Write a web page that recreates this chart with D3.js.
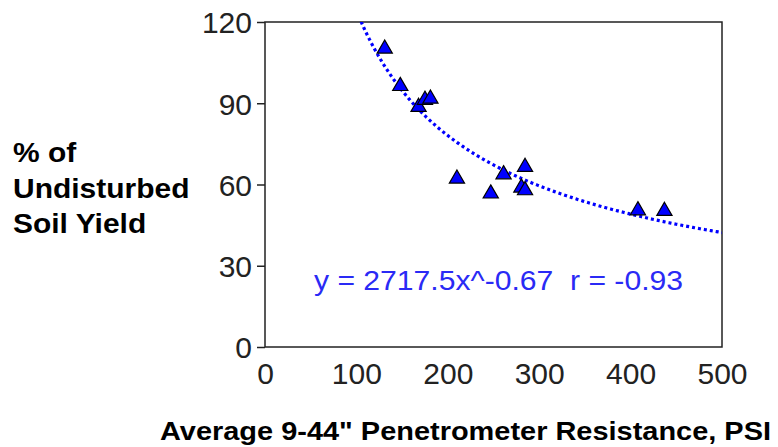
<!DOCTYPE html>
<html>
<head>
<meta charset="utf-8">
<script src="https://cdn.jsdelivr.net/npm/d3@7"></script>
<style>
  html, body { margin: 0; padding: 0; background: #fff; }
  svg { display: block; }
</style>
</head>
<body>
<svg id="chart" width="778" height="447"></svg>
<script>
// ---- data ----
const resistancePSI = [131, 148, 168, 175, 181, 210, 247, 261, 284.5, 280.5, 284.5, 408, 437];
const yieldPct      = [110.5, 96.7, 89, 91.6, 92, 62.5, 57, 64.1, 66.8, 59.2, 58.2, 50.8, 50.6];
const xTicks = [0, 100, 200, 300, 400, 500];
const yTicks = [0, 30, 60, 90, 120];
// power-law trend as printed on the chart: y = a * x^b
const trendA = 2717.5;
const trendB = -0.67;
const trendLabel = "y = 2717.5x^-0.67  r = -0.93";
const yTitleLines = ["% of", "Undisturbed", "Soil Yield"];
const xTitle = "Average 9-44\" Penetrometer Resistance, PSI";

const svg = d3.select("#chart");
const L = 265, R = 722, T = 22, B = 347;

const x = d3.scaleLinear().domain([0, 500]).range([L, R]);
const y = d3.scaleLinear().domain([0, 120]).range([B, T]);

const font = "'Liberation Sans', Arial, sans-serif";

// clip
svg.append("defs").append("clipPath").attr("id", "plotclip")
  .append("rect").attr("x", L).attr("y", T).attr("width", R - L).attr("height", B - T);

// frame
svg.append("rect")
  .attr("x", L).attr("y", T).attr("width", R - L).attr("height", B - T)
  .attr("fill", "none").attr("stroke", "#222").attr("stroke-width", 1.5);

// y axis
const yAxis = svg.append("g").attr("transform", `translate(${L},0)`)
  .call(d3.axisLeft(y).tickValues(yTicks).tickSize(8).tickPadding(5).tickFormat(d3.format("d")));
yAxis.select(".domain").remove();
yAxis.selectAll(".tick line").attr("stroke", "#222").attr("stroke-width", 1.5);
yAxis.selectAll(".tick text")
  .attr("font-family", font).attr("font-size", 30).attr("fill", "#222")
  .attr("dy", "0.36em");

// x axis (labels only)
const xAxis = svg.append("g").attr("transform", `translate(0,${B})`)
  .call(d3.axisBottom(x).tickValues(xTicks).tickSize(0).tickPadding(16).tickFormat(d3.format("d")));
xAxis.select(".domain").remove();
xAxis.selectAll(".tick text")
  .attr("font-family", font).attr("font-size", 30).attr("fill", "#222")
  .attr("dy", "0.71em");

// trend curve
const trendXs = d3.range(100, 501, 2);
const line = d3.line().x(d => x(d)).y(d => y(trendA * Math.pow(d, trendB)));
svg.append("path")
  .datum(trendXs)
  .attr("clip-path", "url(#plotclip)")
  .attr("d", line)
  .attr("fill", "none")
  .attr("stroke", "#0000ff")
  .attr("stroke-width", 3.2)
  .attr("stroke-dasharray", "3,3");

// points (triangles)
const tri = d3.symbol().type(d3.symbolTriangle).size(100);
svg.append("g").selectAll("path")
  .data(resistancePSI.map((v, i) => [v, yieldPct[i]]))
  .join("path")
  .attr("d", tri)
  .attr("transform", d => `translate(${x(d[0])},${y(d[1]) + 1})`)
  .attr("fill", "#0000ff")
  .attr("stroke", "#000")
  .attr("stroke-width", 1.2);

// equation label
svg.append("text")
  .attr("x", 314).attr("y", 290)
  .attr("font-family", font).attr("font-size", 28)
  .attr("fill", "#2a2af5")
  .attr("textLength", 369).attr("lengthAdjust", "spacingAndGlyphs")
  .style("white-space", "pre")
  .text(trendLabel);

// y title (slightly widened, as in the reference)
const yBase = [162, 198, 233];
svg.append("g")
  .attr("transform", "translate(13,0) scale(1.11,1)")
  .selectAll("text")
  .data(yTitleLines)
  .join("text")
  .attr("x", 0).attr("y", (d, i) => yBase[i])
  .attr("font-family", font).attr("font-size", 27).attr("font-weight", "bold")
  .attr("fill", "#000")
  .text(d => d);

// x title
svg.append("text")
  .attr("x", 160).attr("y", 440)
  .attr("font-family", font).attr("font-size", 25).attr("font-weight", "bold")
  .attr("fill", "#000")
  .attr("textLength", 611).attr("lengthAdjust", "spacingAndGlyphs")
  .text(xTitle);
</script>
</body>
</html>
